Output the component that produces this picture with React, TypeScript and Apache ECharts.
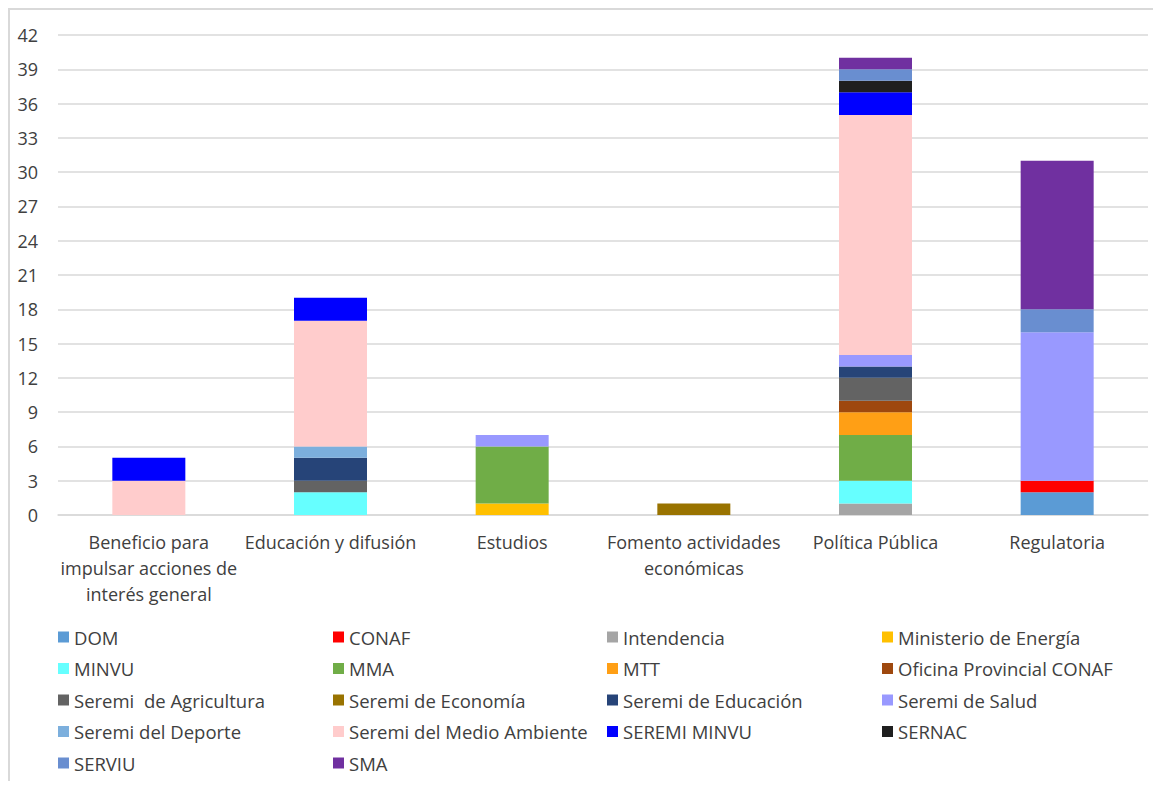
import React, { useEffect, useRef } from "react";
import * as echarts from "echarts";

const categories = [
  "Beneficio para\nimpulsar acciones de\ninterés general",
  "Educación y difusión",
  "Estudios",
  "Fomento actividades\neconómicas",
  "Política Pública",
  "Regulatoria",
];

const yTicks = { min: 0, max: 42, interval: 3 };

const seriesNames = [
  "DOM",
  "CONAF",
  "Intendencia",
  "Ministerio de Energía",
  "MINVU",
  "MMA",
  "MTT",
  "Oficina Provincial CONAF",
  "Seremi  de Agricultura",
  "Seremi de Economía",
  "Seremi de Educación",
  "Seremi de Salud",
  "Seremi del Deporte",
  "Seremi del Medio Ambiente",
  "SEREMI MINVU",
  "SERNAC",
  "SERVIU",
  "SMA",
];

const dom = [0, 0, 0, 0, 0, 2];
const conaf = [0, 0, 0, 0, 0, 1];
const intendencia = [0, 0, 0, 0, 1, 0];
const ministerioEnergia = [0, 0, 1, 0, 0, 0];
const minvu = [0, 2, 0, 0, 2, 0];
const mma = [0, 0, 5, 0, 4, 0];
const mtt = [0, 0, 0, 0, 2, 0];
const oficinaConaf = [0, 0, 0, 0, 1, 0];
const seremiAgricultura = [0, 1, 0, 0, 2, 0];
const seremiEconomia = [0, 0, 0, 1, 0, 0];
const seremiEducacion = [0, 2, 0, 0, 1, 0];
const seremiSalud = [0, 0, 1, 0, 1, 13];
const seremiDeporte = [0, 1, 0, 0, 0, 0];
const seremiMedioAmbiente = [3, 11, 0, 0, 21, 0];
const seremiMinvu = [2, 2, 0, 0, 2, 0];
const sernac = [0, 0, 0, 0, 1, 0];
const serviu = [0, 0, 0, 0, 1, 2];
const sma = [0, 0, 0, 0, 1, 13];

const seriesValues = [
  dom,
  conaf,
  intendencia,
  ministerioEnergia,
  minvu,
  mma,
  mtt,
  oficinaConaf,
  seremiAgricultura,
  seremiEconomia,
  seremiEducacion,
  seremiSalud,
  seremiDeporte,
  seremiMedioAmbiente,
  seremiMinvu,
  sernac,
  serviu,
  sma,
];

const seriesColors = [
  "#5B9BD5",
  "#FF0000",
  "#A5A5A5",
  "#FFC000",
  "#66FFFF",
  "#70AD47",
  "#FF9F15",
  "#9E480E",
  "#636363",
  "#997300",
  "#264478",
  "#9999FF",
  "#7CAFDD",
  "#FFCCCC",
  "#0000FF",
  "#1F1F1F",
  "#698ED0",
  "#7030A0",
];

// legend columns (row-major order of the original legend)
const legendColumns = [
  ["DOM", "MINVU", "Seremi  de Agricultura", "Seremi del Deporte", "SERVIU"],
  ["CONAF", "MMA", "Seremi de Economía", "Seremi del Medio Ambiente", "SMA"],
  ["Intendencia", "MTT", "Seremi de Educación", "SEREMI MINVU"],
  ["Ministerio de Energía", "Oficina Provincial CONAF", "Seremi de Salud", "SERNAC"],
];

const FONT = "'Open Sans', 'Liberation Sans', sans-serif";

export default function App() {
  const ref = useRef<HTMLDivElement>(null);

  useEffect(() => {
    if (!ref.current) return;
    const chart = echarts.init(ref.current, undefined, { renderer: "svg" });
    const legendLefts = [48, 323, 597, 872];
    chart.setOption({
      animation: false,
      textStyle: { fontFamily: FONT },
      grid: { left: 48, right: 5, top: 25, bottom: 266, containLabel: false },
      legend: legendColumns.map((col, i) => ({
        orient: "vertical",
        left: legendLefts[i],
        top: 617,
        padding: 0,
        itemGap: 11.5,
        itemWidth: 11,
        itemHeight: 11,
        icon: "rect",
        selectedMode: false,
        data: col,
        textStyle: {
          fontFamily: FONT,
          fontSize: 18.5,
          color: "#404040",
          lineHeight: 20,
        },
      })),
      xAxis: {
        type: "category",
        data: categories,
        axisLine: { show: true, lineStyle: { color: "#d9d9d9", width: 1.5 } },
        axisTick: { show: false },
        axisLabel: {
          interval: 0,
          margin: 14,
          fontSize: 18,
          lineHeight: 26,
          color: "#404040",
          fontFamily: FONT,
          align: "center",
        },
      },
      yAxis: {
        type: "value",
        min: yTicks.min,
        max: yTicks.max,
        interval: yTicks.interval,
        axisLine: { show: false },
        axisTick: { show: false },
        axisLabel: {
          margin: 20,
          fontSize: 18,
          color: "#404040",
          fontFamily: FONT,
        },
        splitLine: { lineStyle: { color: "#d9d9d9", width: 1.5 } },
      },
      series: seriesNames.map((name, i) => ({
        name,
        type: "bar",
        stack: "total",
        barWidth: 73,
        data: seriesValues[i],
        itemStyle: { color: seriesColors[i] },
      })),
    });
    return () => chart.dispose();
  }, []);

  return (
    <div
      style={{
        width: 1145,
        height: 773,
        boxSizing: "border-box",
        borderTop: "2px solid #d9d9d9",
        borderLeft: "2px solid #d9d9d9",
        overflow: "hidden",
      }}
    >
      <div ref={ref} style={{ width: 1143, height: 771 }} />
    </div>
  );
}
